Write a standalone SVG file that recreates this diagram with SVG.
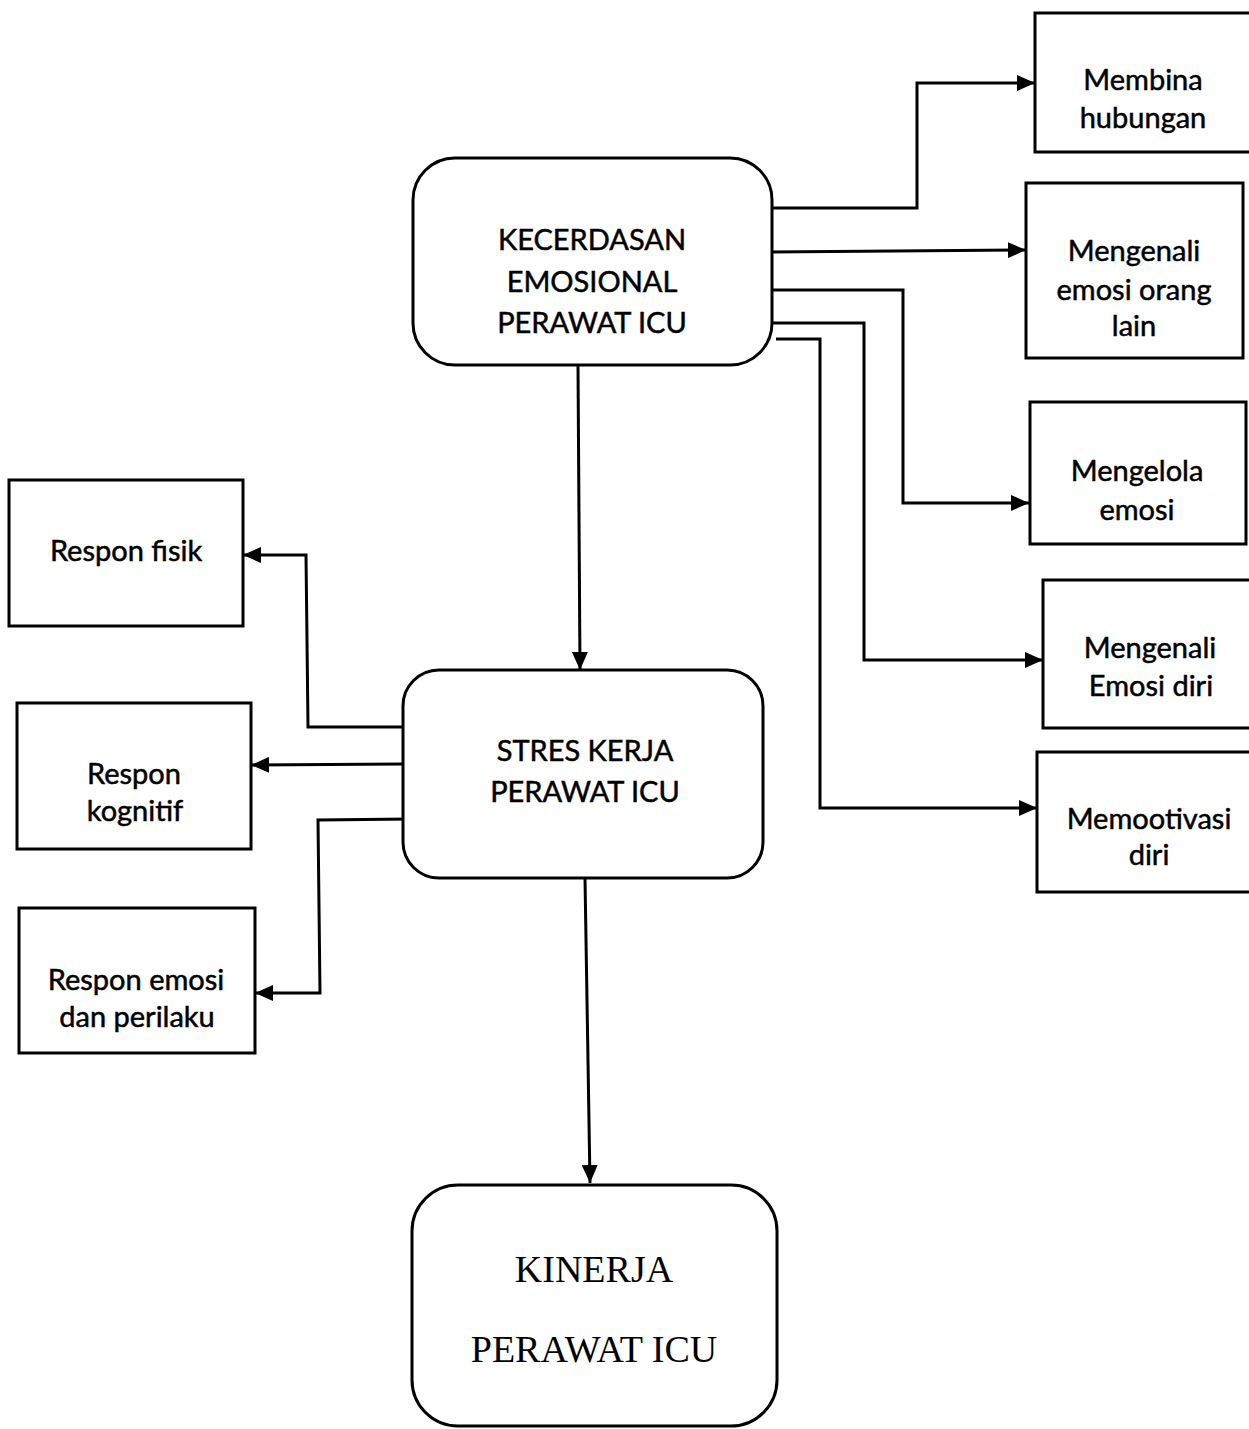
<svg xmlns="http://www.w3.org/2000/svg" width="1249" height="1429" viewBox="0 0 1249 1429">
<style>
.box{fill:#fff;stroke:#000;stroke-width:3}
.t{font-family:"Lato","Liberation Sans",sans-serif;font-size:29px;fill:#000;stroke:#000;stroke-width:0.5;text-anchor:middle}
.s{font-family:"Lato","Liberation Sans",sans-serif;font-size:29px;fill:#000;stroke:#000;stroke-width:0.5;text-anchor:middle}
.k{font-family:"Liberation Serif",serif;font-size:38px;fill:#000;text-anchor:middle}
.c{fill:none;stroke:#000;stroke-width:3;marker-end:url(#ah)}
</style>
<defs>
<marker id="ah" viewBox="0 0 18 16" refX="18" refY="8" markerWidth="18" markerHeight="16" markerUnits="userSpaceOnUse" orient="auto">
<path d="M0,0 L18,8 L0,16 Z" fill="#000"/>
</marker>
</defs>
<rect width="1249" height="1429" fill="#fff"/>
<g id="connectors">
<polyline class="c" points="772,208 917,208 917,83 1035,83"/>
<polyline class="c" points="770,252 1026,250"/>
<polyline class="c" points="772,290 903,290 903,503 1029,503"/>
<polyline class="c" points="772,323 864,323 864,660 1043,660"/>
<polyline class="c" points="776,339 820,339 820,808 1037,808"/>
<polyline class="c" points="578,365 580,670"/>
<polyline class="c" points="585,878 590,1183"/>
<polyline class="c" points="403,727 308,727 306,555 243,555"/>
<polyline class="c" points="403,764 251,765"/>
<polyline class="c" points="411,819 318,820 320,993 255,993"/>
</g>
<g id="n-kecerdasan">
<rect class="box" x="413" y="158" width="359" height="207" rx="42"/>
<text class="t" x="592" y="250">KECERDASAN</text>
<text class="t" x="592" y="292">EMOSIONAL</text>
<text class="t" x="592" y="333">PERAWAT ICU</text>
</g>
<g id="n-stres">
<rect class="box" x="403" y="670" width="360" height="208" rx="36"/>
<text class="t" x="585" y="761">STRES KERJA</text>
<text class="t" x="585" y="802">PERAWAT ICU</text>
</g>
<g id="n-kinerja">
<rect class="box" x="412" y="1185" width="365" height="241" rx="46"/>
<text class="k" x="594" y="1282">KINERJA</text>
<text class="k" x="594" y="1362">PERAWAT ICU</text>
</g>
<g id="n-membina">
<rect class="box" x="1035" y="13" width="230" height="139"/>
<text class="s" x="1143" y="90">Membina</text>
<text class="s" x="1143" y="128">hubungan</text>
</g>
<g id="n-mengenali-orang">
<rect class="box" x="1026" y="183" width="217" height="175"/>
<text class="s" x="1134" y="261">Mengenali</text>
<text class="s" x="1134" y="300">emosi orang</text>
<text class="s" x="1134" y="336">lain</text>
</g>
<g id="n-mengelola">
<rect class="box" x="1030" y="402" width="216" height="142"/>
<text class="s" x="1137" y="481">Mengelola</text>
<text class="s" x="1137" y="520">emosi</text>
</g>
<g id="n-mengenali-diri">
<rect class="box" x="1043" y="580" width="220" height="148"/>
<text class="s" x="1150" y="658">Mengenali</text>
<text class="s" x="1151" y="696">Emosi diri</text>
</g>
<g id="n-memotivasi">
<rect class="box" x="1037" y="752" width="226" height="140"/>
<text class="s" x="1149" y="829">Memootivasi</text>
<text class="s" x="1149" y="865">diri</text>
</g>
<g id="n-fisik">
<rect class="box" x="9" y="480" width="234" height="146"/>
<text class="s" x="126" y="561">Respon fisik</text>
</g>
<g id="n-kognitif">
<rect class="box" x="17" y="703" width="234" height="146"/>
<text class="s" x="134" y="784">Respon</text>
<text class="s" x="135" y="821">kognitif</text>
</g>
<g id="n-emosi">
<rect class="box" x="19" y="908" width="236" height="145"/>
<text class="s" x="136" y="990">Respon emosi</text>
<text class="s" x="137" y="1027">dan perilaku</text>
</g>
</svg>
